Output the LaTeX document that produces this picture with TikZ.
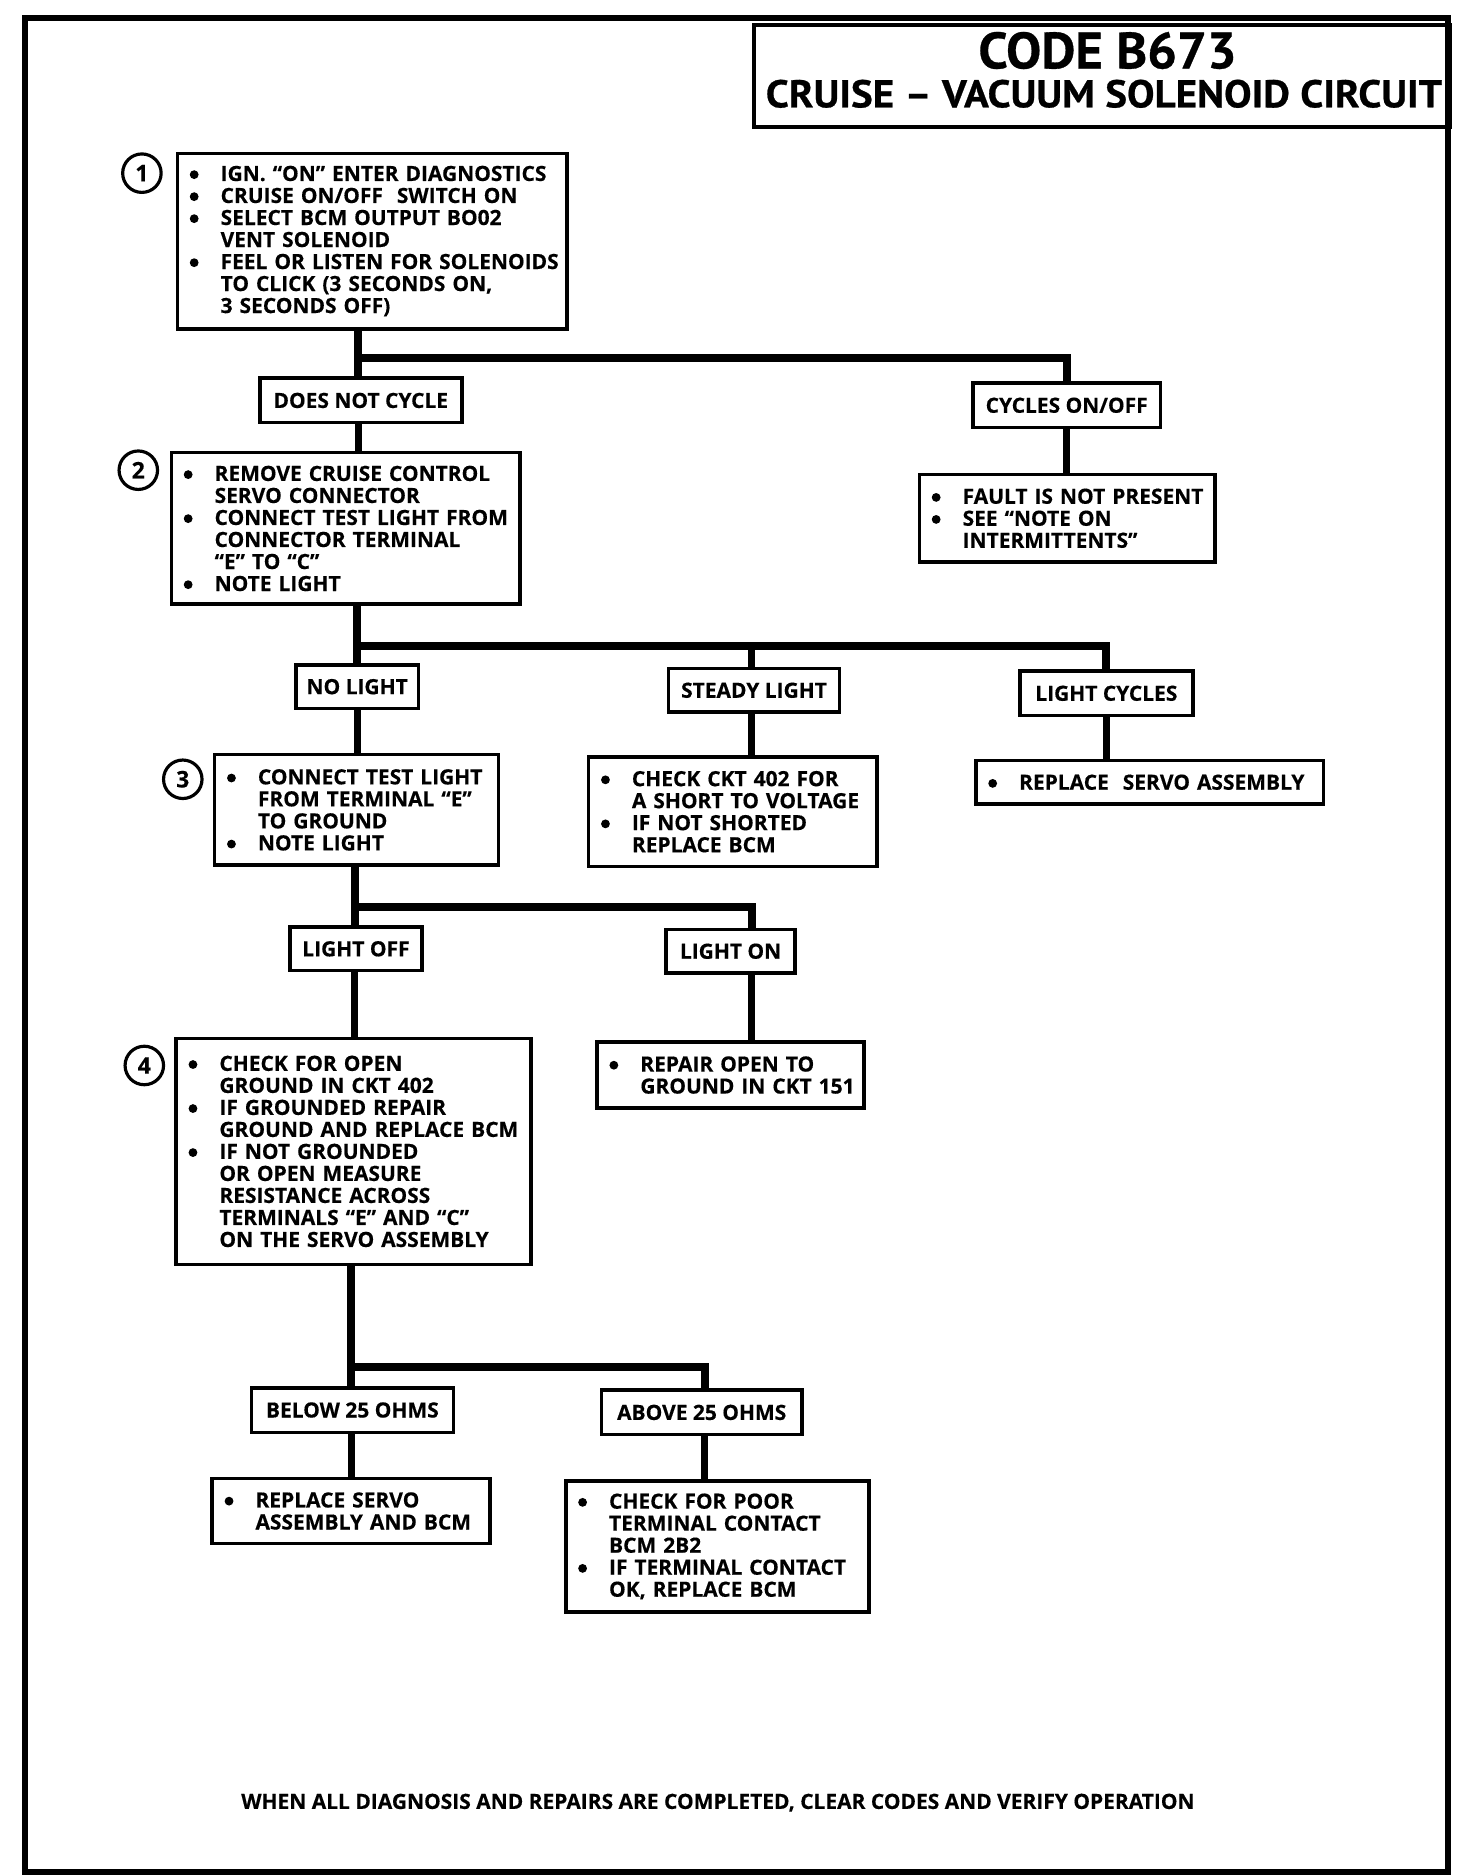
\documentclass[tikz,border=0pt]{standalone}
\usepackage{fontspec}
\usepackage{graphicx}
\setmainfont{Open Sans}[BoldFeatures={FakeBold=0.4}]
\newfontfamily\titlef{PT Sans Bold}[FakeBold=0.6]
\newdimen\pxu \pxu=0.68285pt
\newcommand\bodyf{\fontsize{11.9}{12.5}\selectfont\bfseries}
\newcommand\bmk{\makebox[12\pxu][c]{\tikz[baseline=0pt]\fill (0pt,3.6pt) circle[radius=2.5pt];}\hspace*{16\pxu}}
\newcommand\cnt{\hspace*{28\pxu}}
\newcommand\bl[1]{\bmk\mbox{#1}}
\newcommand\cl[1]{\cnt\mbox{#1}}
\begin{document}
\begin{tikzpicture}[x=0.68285pt,y=-0.68285pt,
  bbox/.style 2 args={draw, line width=2pt, anchor=north west, inner xsep=8*\pxu, inner ysep=0pt,
    minimum width=#1*\pxu, minimum height=#2*\pxu, text width=(#1-16)*\pxu, align=left, font=\bodyf},
  lbox/.style 2 args={draw, line width=2pt, inner sep=0pt, minimum width=#1*\pxu, minimum height=#2*\pxu, font=\bodyf},
  num/.style={draw, circle, line width=1.8pt, minimum size=32*\pxu, inner sep=0pt, font=\fontsize{13}{13}\selectfont\bfseries},
  conn/.style={line width=4pt},
  bus/.style={line width=4.5pt},
  framestyle/.style={line width=3.5pt}]
\useasboundingbox (0,0) rectangle (1224,1560);
\draw[framestyle] (21,15) rectangle (1204,1557);

% title
\node[draw, line width=2.5pt, anchor=north west, minimum width=579*\pxu, minimum height=85*\pxu, inner sep=0pt] (titlebox) at (625,19) {};
\node[font=\fontsize{29}{29}\selectfont\titlef] (t1) at (921,42) {\scalebox{1.03}[1]{CODE B673}};
\node[font=\fontsize{22}{22}\selectfont\titlef] (t2) at (918,78) {\scalebox{1.06}[1]{CRUISE – VACUUM SOLENOID CIRCUIT}};

% step 1
\node[bbox={324}{146}] (b1) at (146,126) {\bl{IGN. “ON” ENTER DIAGNOSTICS}\\\bl{CRUISE ON/OFF\ \ SWITCH ON}\\\bl{SELECT BCM OUTPUT BO02}\\\cl{VENT SOLENOID}\\\bl{FEEL OR LISTEN FOR SOLENOIDS}\\\cl{TO CLICK (3 SECONDS ON,}\\\cl{3 SECONDS OFF)}};
\node[num] (n1) at (118,144) {1};

\node[lbox={168}{37}] (dnc) at (300,333) {DOES NOT CYCLE};
\node[lbox={156}{37}] (cyc) at (887,337) {CYCLES ON/OFF};
\node[bbox={246}{73}] (fault) at (763,393) {\bl{FAULT IS NOT PRESENT}\\\bl{SEE “NOTE ON}\\\cl{INTERMITTENTS”}};

% step 2
\node[bbox={290}{126}] (b2) at (141,375) {\bl{REMOVE CRUISE CONTROL}\\\cl{SERVO CONNECTOR}\\\bl{CONNECT TEST LIGHT FROM}\\\cl{CONNECTOR TERMINAL}\\\cl{“E” TO “C”}\\\bl{NOTE LIGHT}};
\node[num] (n2) at (115,391) {2};

\node[lbox={102}{36}] (nol) at (297,571) {NO LIGHT};
\node[lbox={142}{36}] (std) at (627,574) {STEADY LIGHT};
\node[lbox={144}{37}] (lcy) at (920,576.5) {LIGHT CYCLES};

% step 3
\node[bbox={236}{92}] (b3) at (177,626) {\bl{CONNECT TEST LIGHT}\\\cl{FROM TERMINAL “E”}\\\cl{TO GROUND}\\\bl{NOTE LIGHT}};
\node[num] (n3) at (152,648) {3};
\node[bbox={240}{91}] (stdb) at (488,628) {\bl{CHECK CKT 402 FOR}\\\cl{A SHORT TO VOLTAGE}\\\bl{IF NOT SHORTED}\\\cl{REPLACE BCM}};
\node[bbox={289}{36}] (rsv) at (810,631) {\bl{REPLACE\ \ SERVO ASSEMBLY}};

\node[lbox={110}{36}] (loff) at (296,789) {LIGHT OFF};
\node[lbox={107}{36}] (lon) at (607.5,791) {LIGHT ON};

% step 4
\node[bbox={295}{188}] (b4) at (145,862) {\bl{CHECK FOR OPEN}\\\cl{GROUND IN CKT 402}\\\bl{IF GROUNDED REPAIR}\\\cl{GROUND AND REPLACE BCM}\\\bl{IF NOT GROUNDED}\\\cl{OR OPEN MEASURE}\\\cl{RESISTANCE ACROSS}\\\cl{TERMINALS “E” AND “C”}\\\cl{ON THE SERVO ASSEMBLY}};
\node[num] (n4) at (120,886) {4};
\node[bbox={222}{55}] (rep) at (495,865) {\bl{REPAIR OPEN TO}\\\cl{GROUND IN CKT 151}};

\node[lbox={168}{37}] (blw) at (293,1172.5) {BELOW 25 OHMS};
\node[lbox={167}{37}] (abv) at (583.5,1174.5) {ABOVE 25 OHMS};
\node[bbox={231}{54}] (rsb) at (175,1228) {\bl{REPLACE SERVO}\\\cl{ASSEMBLY AND BCM}};
\node[bbox={252}{109}] (chk) at (469,1230) {\bl{CHECK FOR POOR}\\\cl{TERMINAL CONTACT}\\\cl{BCM 2B2}\\\bl{IF TERMINAL CONTACT}\\\cl{OK, REPLACE BCM}};

\node[font=\fontsize{11.9}{12}\selectfont\bfseries] (foot) at (597,1499) {WHEN ALL DIAGNOSIS AND REPAIRS ARE COMPLETED, CLEAR CODES AND VERIFY OPERATION};

% connectors
\coordinate (j1) at (298,298);
\draw[bus] (b1.south -| j1) -- (j1 |- dnc.north);
\draw[bus] (j1) -| (cyc.north);
\draw[conn] (cyc.south) -- (cyc.south |- fault.north);
\draw[conn] (j1 |- dnc.south) -- (j1 |- b2.north);

\coordinate (j2) at (297,537);
\coordinate (j2b) at (625,537);
\draw[bus] (j2 |- b2.south) -- (j2 |- nol.north);
\draw[bus] (j2) -| (lcy.north);
\draw[conn] (j2b) -- (j2b |- std.north);
\draw[conn] (j2b |- std.south) -- (j2b |- stdb.north);
\draw[conn] (j2 |- nol.south) -- (j2 |- b3.north);
\draw[conn] (lcy.south) -- (lcy.south |- rsv.north);

\coordinate (j3) at (295,754);
\coordinate (j3b) at (625,754);
\draw[bus] (j3 |- b3.south) -- (j3 |- loff.north);
\draw[bus] (j3) -- (j3b) -- (j3b |- lon.north);
\draw[conn] (j3b |- lon.south) -- (j3b |- rep.north);
\draw[conn] (j3 |- loff.south) -- (j3 |- b4.north);

\coordinate (j4) at (292,1137);
\coordinate (j4b) at (586,1137);
\draw[bus] (j4 |- b4.south) -- (j4 |- blw.north);
\draw[bus] (j4) -- (j4b) -- (j4b |- abv.north);
\draw[conn] (j4 |- blw.south) -- (j4 |- rsb.north);
\draw[conn] (j4b |- abv.south) -- (j4b |- chk.north);
\end{tikzpicture}
\end{document}
